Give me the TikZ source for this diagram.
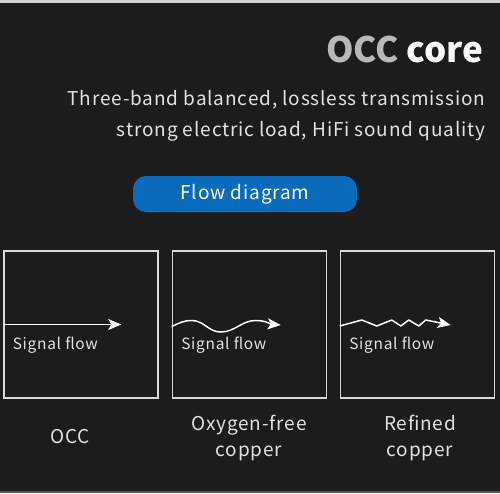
\documentclass[tikz,border=0pt]{standalone}
\usepackage{fontspec}
\setmainfont[LetterSpace=4.5]{Noto Sans CJK SC}
\newfontfamily\titlefont{Noto Sans CJK SC}
\usetikzlibrary{arrows.meta}
\usetikzlibrary{calc}

\definecolor{bgdark}{HTML}{1C1C1C}
\definecolor{btnblue}{HTML}{0A6BBD}
\definecolor{framegray}{HTML}{D9D9D9}
\definecolor{textgray}{HTML}{E2E2E2}

\tikzset{
  panel/.style={draw=framegray, line width=1.5pt, minimum width=154pt, minimum height=147pt, inner sep=0pt},
  flow/.style={white, line width=1.5pt, line join=round, -{Stealth[length=13pt,width=11pt,inset=3pt]}},
  caption/.style={textgray, font=\fontsize{19}{26}\selectfont, align=center},
  sig/.style={textgray, font=\fontsize{15.5}{18}\selectfont, anchor=west},
  subline/.style={textgray, font=\fontsize{19}{24}\selectfont, anchor=base east}
}

\begin{document}
\begin{tikzpicture}[x=1pt,y=-1pt]
                \fill[bgdark] (0,0) rectangle (500,493);
                \fill[white!82!black] (0,0) rectangle (500,3);
                \fill[white!35!black] (0,491) rectangle (500,493);
                \node[anchor=base east, font=\titlefont\fontsize{35}{40}\selectfont\bfseries] (title) at (487,62) {\textcolor{white!72!black}{OCC} \textcolor{white}{core}};
                \node[subline] (subone) at (489,105) {Three-band balanced, lossless transmission};
                \node[subline] (subtwo) at (489,136) {strong electric load, HiFi sound quality};
                \node[fill=btnblue, rounded corners=13pt, minimum width=224pt, minimum height=36pt, text=white, font=\fontsize{19}{24}\selectfont] (flowbtn) at (245,194) {Flow diagram};
                \node[panel] (occbox) at (81,324.5) {};
                \node[panel] (oxybox) at (249.5,324.5) {};
                \node[panel] (refbox) at (417.5,324.5) {};
                \node[sig] (occsig) at ($(occbox.west)+(6,21)$) {Signal flow};
                \node[sig] (oxysig) at ($(oxybox.west)+(6,21)$) {Signal flow};
                \node[sig] (refsig) at ($(refbox.west)+(6,21)$) {Signal flow};
                \coordinate (occend) at ($(occbox.west)+(118,0)$);
                \coordinate (oxystart) at ($(oxybox.west)+(0,2)$);
                \coordinate (oxyend) at ($(oxybox.west)+(109,0.5)$);
                \coordinate (refstart) at ($(refbox.west)+(0,1.5)$);
                \coordinate (refend) at ($(refbox.west)+(111,0.5)$);
                \draw[flow] (occbox.west) -- (occend);
                \draw[flow] (oxystart) to[out=25,in=180] ++(20,-6) to[out=0,in=180] ++(29,11.5) to[out=0,in=180] ++(35,-11.5) to[out=0,in=175] (oxyend);
                \draw[flow] (refstart) -- ++(22,-6) -- ++(15,6) -- ++(15,-6) -- ++(9,6) -- ++(8,-6) -- ++(10,6) -- ++(7,-6) -- (refend);
                \node[caption] (occlbl) at (70,437) {OCC};
                \node[caption] (oxylbl) at (249,438) {Oxygen-free\\copper};
                \node[caption] (reflbl) at (420,438) {Refined\\copper};
            \end{tikzpicture}
\end{document}
